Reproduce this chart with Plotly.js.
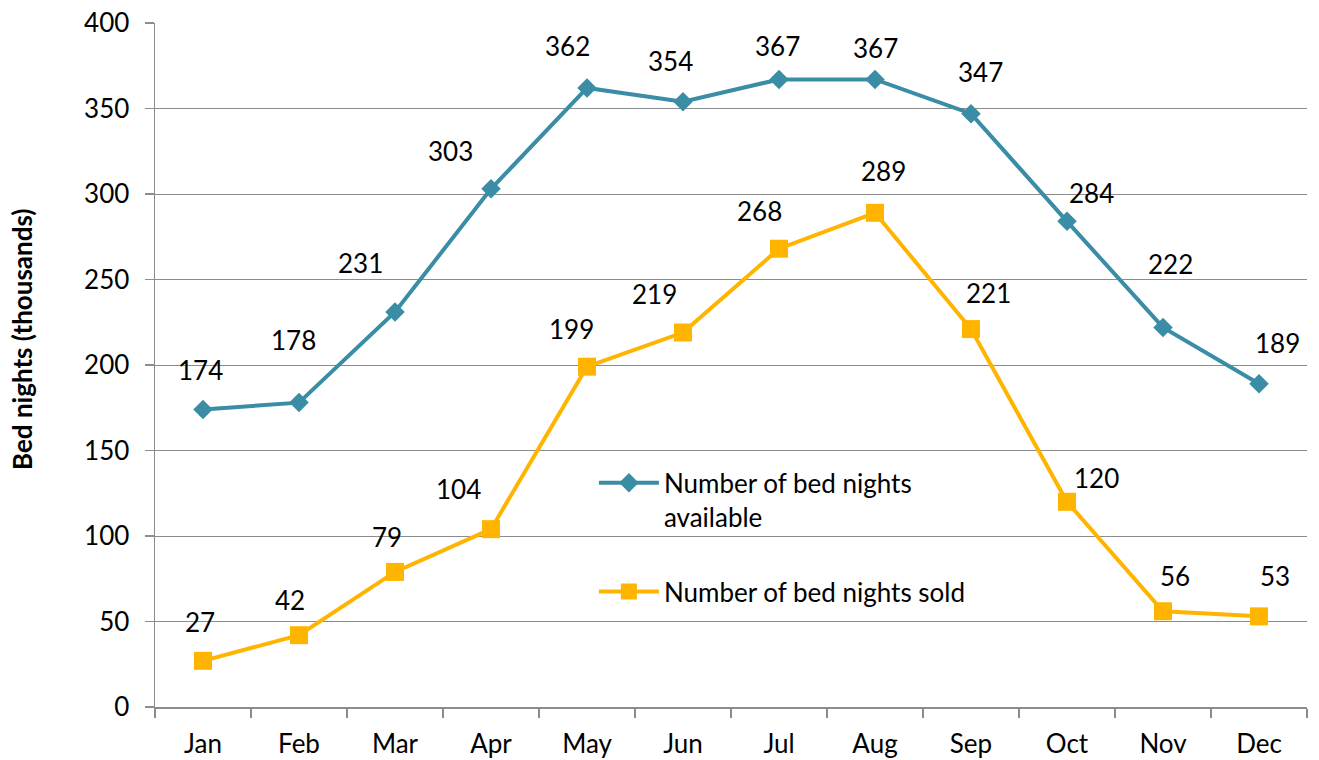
<!DOCTYPE html>
<html>
<head>
<meta charset="utf-8">
<script src="https://cdn.plot.ly/plotly-3.0.1.min.js"></script>
<style>html,body{margin:0;padding:0;background:#fff;}#chart{width:1319px;height:760px;}</style>
</head>
<body>
<div id="chart"></div>
<script>
const months = ["Jan","Feb","Mar","Apr","May","Jun","Jul","Aug","Sep","Oct","Nov","Dec"];
const available = [174,178,231,303,362,354,367,367,347,284,222,189];
const sold = [27,42,79,104,199,219,268,289,221,120,56,53];
const nameAvailable = "Number of bed nights<br>available";
const nameSold = "Number of bed nights sold";
const yTicks = [0,50,100,150,200,250,300,350,400];

// label offsets in pixels (layout only)
const availShift = [[-3,39],[-6,63],[-35,49],[-41,38],[-20,42],[-13,41],[-2,33],[0,31],[9,42],[24,28],[7,63],[18,41]];
const soldShift = [[-3,39],[-9,35],[-8,35],[-33,40],[-16,38],[-29,39],[-20,38],[8,42],[17,36],[29,24],[12,35],[16,40]];

const FONT = "Lato, 'Open Sans', sans-serif";
const TEAL = "#3A8DA5";
const GOLD = "#FFB400";
const GRID = "#8C8C8C";
const FS = 26;

const traces = [
  {x: months, y: available, name: nameAvailable, type: "scatter", mode: "lines+markers",
   line: {color: TEAL, width: 4}, marker: {symbol: "diamond", size: 15, color: TEAL}, legend: "legend"},
  {x: months, y: sold, name: nameSold, type: "scatter", mode: "lines+markers",
   line: {color: GOLD, width: 4}, marker: {symbol: "square", size: 18, color: GOLD}, legend: "legend2"}
];

const annotations = [];
months.forEach((m, i) => {
  annotations.push({x: m, y: available[i], xref: "x", yref: "y", text: String(available[i]), showarrow: false,
    xshift: availShift[i][0], yshift: availShift[i][1], font: {family: FONT, size: FS, color: "#000"}});
  annotations.push({x: m, y: sold[i], xref: "x", yref: "y", text: String(sold[i]), showarrow: false,
    xshift: soldShift[i][0], yshift: soldShift[i][1], font: {family: FONT, size: FS, color: "#000"}});
});
annotations.push({text: "<b>Bed nights (thousands)</b>", xref: "paper", yref: "paper", x: -0.1155, y: 0.538,
  xanchor: "center", yanchor: "middle",
  textangle: -90, showarrow: false, font: {family: FONT, size: 26, color: "#000"}});

const layout = {
  width: 1319, height: 760,
  margin: {l: 155, r: 12, t: 23, b: 53},
  paper_bgcolor: "#fff", plot_bgcolor: "#fff",
  font: {family: FONT, size: FS, color: "#000"},
  xaxis: {type: "category", range: [-0.5, 11.5], showgrid: false, showline: true, linecolor: GRID, linewidth: 1.5,
    ticks: "outside", tickson: "boundaries", ticklen: 9, tickcolor: GRID, tickwidth: 1.5,
    tickfont: {family: FONT, size: FS, color: "#000"}, ticklabelstandoff: 13, zeroline: false, fixedrange: true},
  yaxis: {range: [0, 400], tickvals: yTicks, showgrid: true, gridcolor: GRID, gridwidth: 1,
    showline: true, linecolor: GRID, linewidth: 1.5, ticks: "outside", ticklen: 9, tickcolor: GRID, tickwidth: 1.5,
    tickfont: {family: FONT, size: FS, color: "#000"}, ticklabelstandoff: 10, zeroline: false, fixedrange: true},
  showlegend: true,
  legend: {x: 0.381, y: 0.362, xanchor: "left", yanchor: "top", bgcolor: "rgba(0,0,0,0)", itemwidth: 60, valign: "top",
    font: {family: FONT, size: FS, color: "#000"}},
  legend2: {x: 0.381, y: 0.203, xanchor: "left", yanchor: "top", bgcolor: "rgba(0,0,0,0)", itemwidth: 60,
    font: {family: FONT, size: FS, color: "#000"}},
  annotations: annotations
};

Plotly.newPlot("chart", traces, layout, {displayModeBar: false, staticPlot: true});
</script>
</body>
</html>
